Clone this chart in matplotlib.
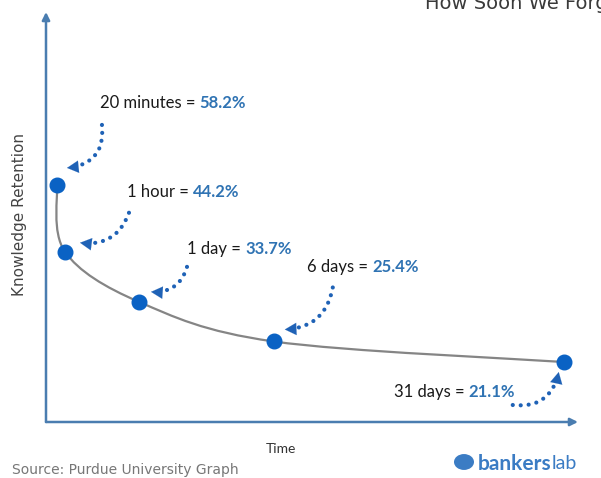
import numpy as np
import matplotlib
matplotlib.use('Agg')
import matplotlib.pyplot as plt
from matplotlib.path import Path
from matplotlib.patches import PathPatch, Circle
from matplotlib.transforms import IdentityTransform
from matplotlib.text import Annotation

# ---- data ----
labels = ['20 minutes', '1 hour', '1 day', '6 days', '31 days']
minutes = [20, 60, 1440, 8640, 44640]
retention = [58.2, 44.2, 33.7, 25.4, 21.1]
value_text = ['58.2%', '44.2%', '33.7%', '25.4%', '21.1%']

# ---- styling ----
label_off = [(43, 82), (62, 60), (48, 53), (33, 74), (-170, -30)]
start_off = [(45, 60), (64, 39), (48, 35), (59, 54), (-51, -43)]
tip_off = [(10, 17), (15, 9), (12, 10), (11, 12), (-5, -10)]
arrow_rad = [-0.5, -0.4, -0.4, -0.4, 0.45]
axis_c = '#4a7db0'
marker_c = '#0a62c4'
dot_c = '#1f62b6'
val_c = '#2f73b3'
font = 'Lato'

W, H = 601, 478
fig = plt.figure(figsize=(W / 100, H / 100), dpi=100)
fig.patch.set_facecolor('white')
ax = fig.add_axes([46 / W, 56 / H, 532 / W, 410 / H])
ax.set_xscale('function', functions=(lambda x: np.sqrt(np.clip(x, 0, None)), np.square))
ax.set_xlim(0, 47130)
ax.set_ylim(8.53, 94.43)
ax.axis('off')

# axes with arrows
for tip in [(0, 1), (1, 0)]:
    ax.annotate('', xy=tip, xytext=(0, 0), xycoords='axes fraction',
                arrowprops=dict(arrowstyle='-|>,head_length=0.5,head_width=0.25',
                                color=axis_c, lw=1.8, mutation_scale=9,
                                shrinkA=0, shrinkB=0))

# smooth curve through the points (Catmull-Rom in display space)
pts = ax.transData.transform(np.column_stack([minutes, retention]))
P = np.vstack([pts[0], pts, pts[-1]])
verts = [tuple(pts[0])]
codes = [Path.MOVETO]
for i in range(1, len(P) - 2):
    c1 = P[i] + (P[i + 1] - P[i - 1]) / 6
    c2 = P[i + 1] - (P[i + 2] - P[i]) / 6
    verts += [tuple(c1), tuple(c2), tuple(P[i + 1])]
    codes += [Path.CURVE4] * 3
ax.add_artist(PathPatch(Path(verts, codes), facecolor='none', edgecolor='#858585',
                        lw=1.6, transform=IdentityTransform(), zorder=2))

ax.plot(minutes, retention, 'o', color=marker_c, markersize=10.5, zorder=4, clip_on=False)

for lab, m, r, v, lo, so, to, rad, p in zip(labels, minutes, retention, value_text,
                                             label_off, start_off, tip_off, arrow_rad, pts):
    t = ax.annotate(lab + ' = ', xy=(m, r), xytext=lo, textcoords='offset pixels',
                    ha='left', va='center', fontsize=12, family=font, color='#1a1a1a')
    ax.annotate(v, xy=(1, 0), xycoords=t, ha='left', va='bottom', fontsize=12,
                family=font, fontweight='bold', color=val_c)
    S = p + np.array(so, float)
    T = p + np.array(to, float)
    d = T - S
    C = (S + T) / 2 + rad * np.array([d[1], -d[0]])
    # dotted body
    ax.annotate('', xy=tuple(T), xycoords='figure pixels', xytext=tuple(S),
                textcoords='figure pixels',
                arrowprops=dict(arrowstyle='-', color=dot_c, lw=3.0,
                                linestyle=(0, (0.01, 1.9)), capstyle='round',
                                shrinkA=0, shrinkB=9,
                                connectionstyle=f'arc3,rad={rad}'))
    # solid head aligned with the arc's end tangent
    u = (T - C) / np.linalg.norm(T - C)
    B = T - u * 11
    ax.annotate('', xy=tuple(T), xycoords='figure pixels', xytext=tuple(B),
                textcoords='figure pixels',
                arrowprops=dict(arrowstyle='-|>,head_length=0.75,head_width=0.4',
                                color=dot_c, lw=0.1, mutation_scale=11,
                                shrinkA=0, shrinkB=0))

# text
fig.text(20 / W, 1 - 215 / H, 'Knowledge Retention', rotation=90, ha='center', va='center',
         fontsize=11, color='#444444', family='DejaVu Sans')
fig.text(281 / W, 1 - 449 / H, 'Time', ha='center', va='center', fontsize=10,
         color='#333333', family=font)
fig.text(12 / W, 1 - 470 / H, 'Source: Purdue University Graph', ha='left', va='center',
         fontsize=10, color='#777777', family='DejaVu Sans')
fig.text(425 / W, 1 - 9 / H, 'How Soon We Forget', ha='left', va='baseline', fontsize=14,
         color='#3a3a3a', family='DejaVu Sans')

# logo
fig.patches.append(Circle((464 / W, 1 - 462 / H), 10 / W, transform=fig.transFigure,
                          facecolor='#3b7cc4', edgecolor='none'))
lt = fig.text(478 / W, 1 - 464 / H, 'bankers', ha='left', va='center', fontsize=15,
              fontweight='bold', color='#3b7cc4', family=font)
fig.add_artist(Annotation('lab', xy=(1, 0.1), xycoords=lt, ha='left', va='bottom',
                          fontsize=14, color='#3b7cc4', family=font))

fig.savefig('out.png', dpi=100, facecolor='white')
